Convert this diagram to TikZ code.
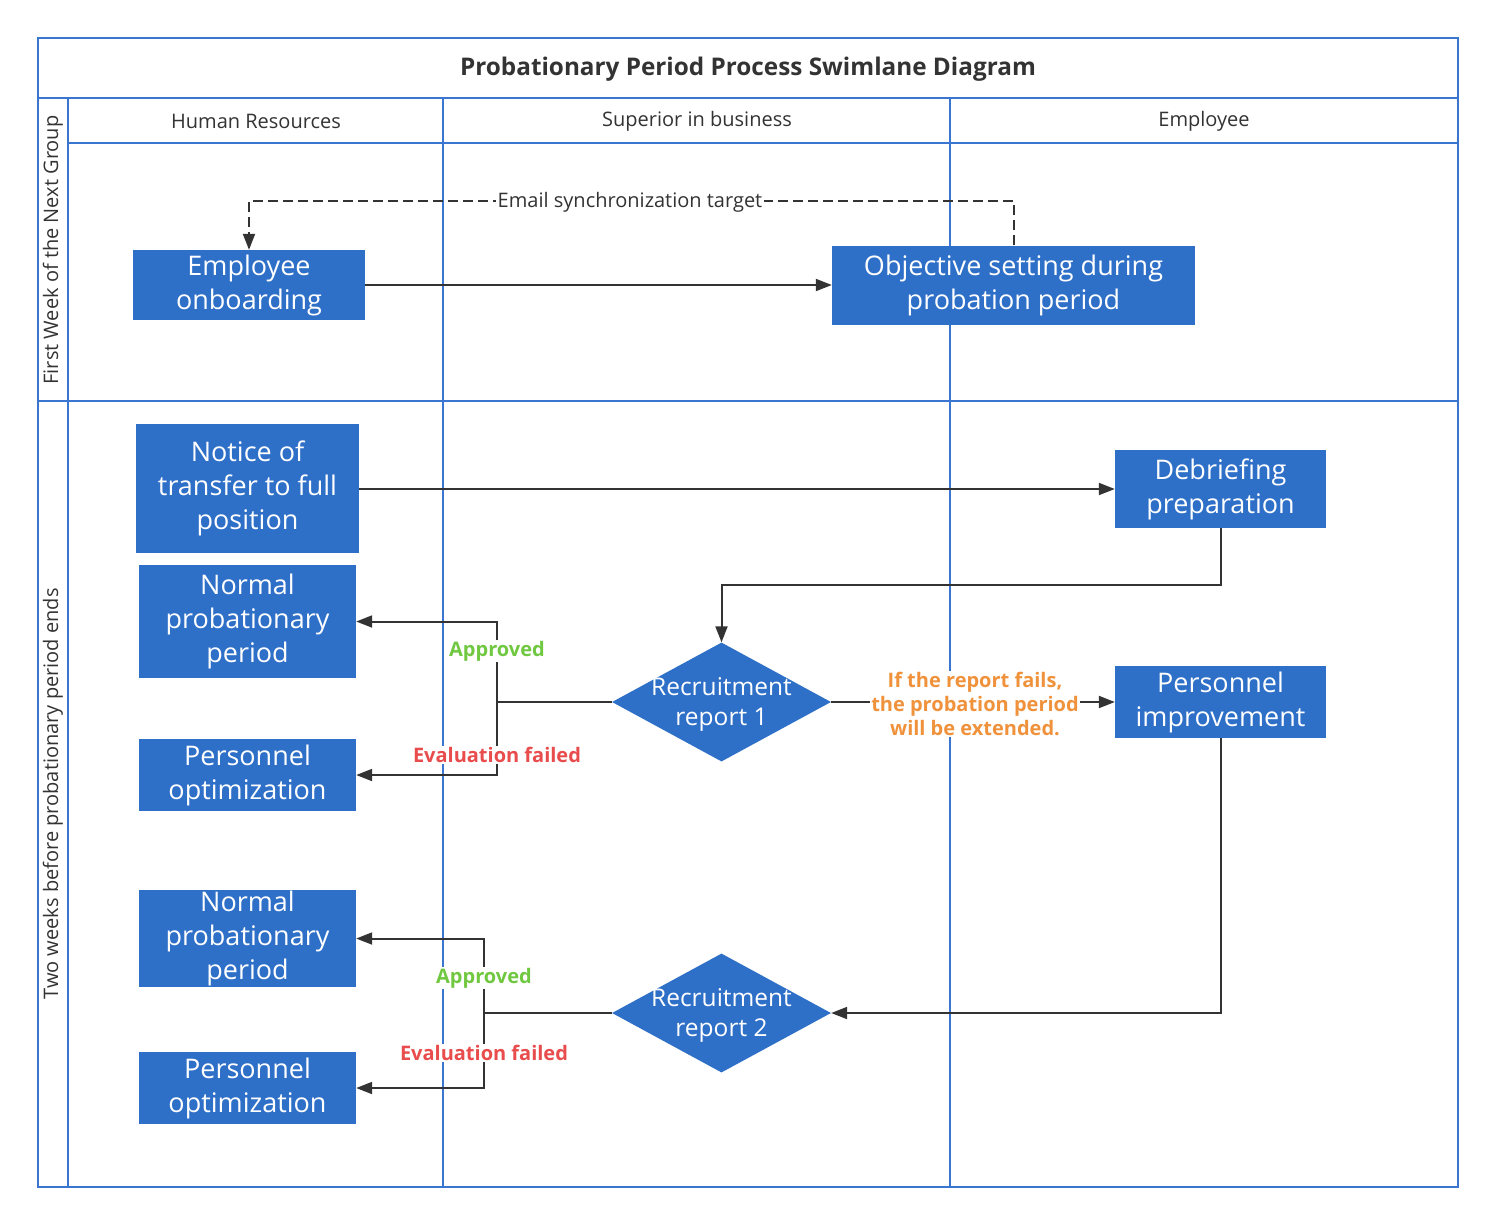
\documentclass[tikz,border=0pt]{standalone}
\usepackage{fontspec}
\setmainfont{Open Sans}
\usetikzlibrary{arrows.meta,shapes.geometric}
\definecolor{boxblue}{RGB}{46,111,200}
\definecolor{laneblue}{RGB}{58,118,208}
\definecolor{ink}{RGB}{51,51,51}
\definecolor{okgreen}{RGB}{112,200,64}
\definecolor{failred}{RGB}{232,76,76}
\definecolor{warnorange}{RGB}{240,146,60}
\begin{document}
\begin{tikzpicture}[x=1pt,y=-1pt,
 lane/.style={draw=laneblue,line width=2.6pt},
 box/.style={rectangle,fill=boxblue,text=white,inner sep=0pt,align=center,font=\fontsize{27}{34}\selectfont},
 dia/.style={diamond,fill=boxblue,inner sep=0pt,minimum width=219pt,minimum height=119pt},
 dtext/.style={text=white,align=center,font=\fontsize{24.5}{30}\selectfont},
 conn/.style={draw=ink,line width=2pt,-{Triangle[length=16pt,width=12pt]}},
 plain/.style={draw=ink,line width=2pt},
 lbl/.style={fill=white,inner sep=1pt,font=\bfseries\fontsize{20}{24}\selectfont,align=center},
 hdr/.style={font=\fontsize{20}{24}\selectfont,text=ink,inner sep=1pt}
]
\useasboundingbox[fill=white] (0,0) rectangle (1495,1224);

% frame and lanes
\draw[lane] (38,38) rectangle (1458,1187);
\draw[lane] (38,98) -- (1458,98);
\draw[lane] (68,98) -- (68,1187);
\draw[lane] (68,143) -- (1458,143);
\draw[lane] (38,401) -- (1458,401);
\draw[lane] (443,98) -- (443,1187);
\draw[lane] (950,98) -- (950,1187);

% title and headers
\node[font=\bfseries\fontsize{24.3}{28}\selectfont,text=ink] (title) at (748,69) {Probationary Period Process Swimlane Diagram};
\node[hdr] (hHR) at (256,121) {Human Resources};
\node[hdr] (hSup) at (697,121) {Superior in business};
\node[hdr] (hEmp) at (1204,121) {Employee};
\node[hdr,rotate=90] (r1) at (53,250) {First Week of the Next Group};
\node[hdr,rotate=90] (r2) at (53,794) {Two weeks before probationary period ends};

% boxes
\node[box,minimum width=232pt,minimum height=70pt] (onb) at (249,285) {Employee\\onboarding};
\node[box,minimum width=363pt,minimum height=79pt] (obj) at (1013.5,285) {Objective setting during\\probation period};
\node[box,minimum width=223pt,minimum height=129pt] (notice) at (247.5,488.5) {Notice of\\transfer to full\\position};
\node[box,minimum width=211pt,minimum height=78pt] (deb) at (1220.5,489) {Debriefing\\preparation};
\node[box,minimum width=217pt,minimum height=113pt] (np1) at (247.5,621.5) {Normal\\probationary\\period};
\node[box,minimum width=217pt,minimum height=72pt] (po1) at (247.5,775) {Personnel\\optimization};
\node[box,minimum width=211pt,minimum height=72pt] (imp) at (1220.5,702) {Personnel\\improvement};
\node[box,minimum width=217pt,minimum height=97pt] (np2) at (247.5,938.5) {Normal\\probationary\\period};
\node[box,minimum width=217pt,minimum height=72pt] (po2) at (247.5,1088) {Personnel\\optimization};

\node[dia] (d1) at (721.5,702) {};
\node[dtext] (d1t) at (721.5,704) {Recruitment\\report 1};
\node[dia] (d2) at (721.5,1013) {};
\node[dtext] (d2t) at (721.5,1015) {Recruitment\\report 2};

% connectors
\draw[conn] (onb.east) -- (onb.east -| obj.west);
\coordinate (em1) at (1013.5,201);
\coordinate (em2) at (249,201);
\draw[conn,dash pattern=on 10pt off 5pt] (obj.north) -- (em1) -- (em2) -- (onb.north);
\draw[conn] (notice.east |- deb.west) -- (deb.west);
\coordinate (k1) at (1220.5,585);
\draw[conn] (deb.south) -- (k1) -| (d1.north);

\coordinate (j1) at (497,702);
\draw[plain] (d1.west) -- (j1);
\draw[conn] (j1) |- (np1.east);
\draw[conn] (j1) |- (po1.east);
\draw[conn] (d1.east) -- (imp.west);
\draw[conn] (imp.south) |- (d2.east);
\coordinate (j2) at (484,1013);
\draw[plain] (d2.west) -- (j2);
\draw[conn] (j2) |- (np2.east);
\draw[conn] (j2) |- (po2.east);

% labels
\node[hdr,fill=white,inner sep=2pt] (emlbl) at (630,202) {Email synchronization target};
\node[lbl,text=okgreen] (ap1) at (497,651) {Approved};
\node[lbl,text=failred] (ef1) at (497,755) {Evaluation failed};
\node[lbl,text=okgreen] (ap2) at (484,978) {Approved};
\node[lbl,text=failred] (ef2) at (484,1053) {Evaluation failed};
\node[lbl,text=warnorange] (ext) at (975,704) {If the report fails,\\the probation period\\will be extended.};
\end{tikzpicture}
\end{document}
